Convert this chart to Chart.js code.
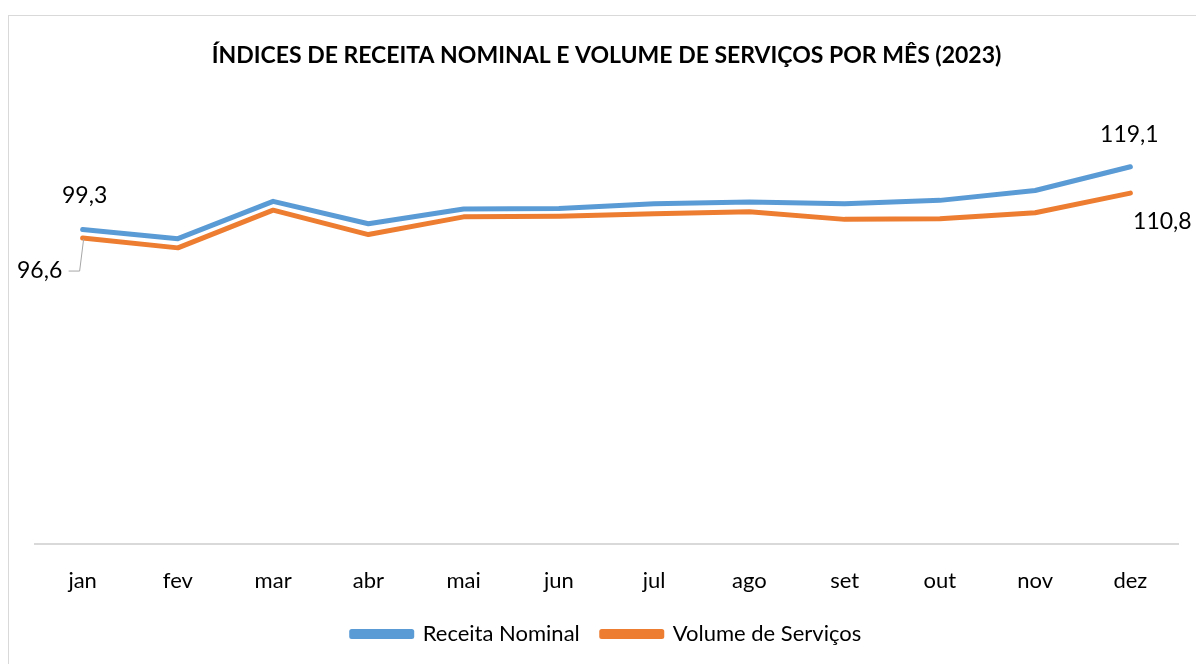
<!DOCTYPE html>
<html>
<head>
<meta charset="utf-8">
<script src="https://cdn.jsdelivr.net/npm/chart.js@4"></script>
<style>
  html, body { margin: 0; padding: 0; background: #fff; overflow: hidden; }
  #box {
    position: absolute; left: 8px; top: 15px;
    width: 1188px; height: 660px;
    border: 1px solid #d9d9d9; background: #fff;
  }
  #wrap { position: relative; width: 1186px; height: 648px; }
</style>
</head>
<body>
<div id="box"><div id="wrap"><canvas id="myChart"></canvas></div></div>
<script>
const months = ['jan', 'fev', 'mar', 'abr', 'mai', 'jun', 'jul', 'ago', 'set', 'out', 'nov', 'dez'];
const receitaNominal = [99.3, 96.4, 108.2, 101.1, 105.8, 105.9, 107.4, 108.0, 107.4, 108.5, 111.6, 119.1];
const volumeServicos = [96.6, 93.5, 105.4, 97.7, 103.3, 103.5, 104.3, 104.9, 102.5, 102.7, 104.6, 110.8];

const fontFamily = 'Lato, "Open Sans", sans-serif';

// labels for first and last points, drawn next to the lines
const pointLabels = {
  id: 'pointLabels',
  afterDatasetsDraw(chart) {
    const ctx = chart.ctx;
    const blue = chart.getDatasetMeta(0).data;
    const orange = chart.getDatasetMeta(1).data;
    const fmt = v => v.toFixed(1).replace('.', ',');
    ctx.save();
    ctx.font = '23px ' + fontFamily;
    ctx.fillStyle = '#000';
    ctx.textAlign = 'center';
    ctx.textBaseline = 'middle';
    const first = 0, last = months.length - 1;
    ctx.fillText(fmt(receitaNominal[first]), blue[first].x + 2, blue[first].y - 34);
    ctx.fillText(fmt(volumeServicos[first]), orange[first].x - 43, orange[first].y + 33);
    ctx.fillText(fmt(receitaNominal[last]), blue[last].x - 1, blue[last].y - 32);
    ctx.fillText(fmt(volumeServicos[last]), orange[last].x + 32, orange[last].y + 28);

    // leader line for 96,6
    ctx.strokeStyle = '#a6a6a6';
    ctx.lineWidth = 1;
    ctx.beginPath();
    ctx.moveTo(orange[first].x - 14, orange[first].y + 33);
    ctx.lineTo(orange[first].x - 3, orange[first].y + 33);
    ctx.lineTo(orange[first].x + 1, orange[first].y + 1);
    ctx.stroke();
    ctx.restore();
  }
};

const data = {
  labels: months,
  datasets: [
    {
      label: 'Receita Nominal',
      data: receitaNominal,
      borderColor: '#5b9bd5',
      backgroundColor: '#5b9bd5',
      borderWidth: 5,
      pointRadius: 0,
      tension: 0,
      borderCapStyle: 'round',
      borderJoinStyle: 'round'
    },
    {
      label: 'Volume de Serviços',
      data: volumeServicos,
      borderColor: '#ed7d31',
      backgroundColor: '#ed7d31',
      borderWidth: 5,
      pointRadius: 0,
      tension: 0,
      borderCapStyle: 'round',
      borderJoinStyle: 'round'
    }
  ]
};

const config = {
  type: 'line',
  data: data,
  options: {
    responsive: true,
    maintainAspectRatio: false,
    animation: false,
    layout: {
      padding: { left: 26, right: 17, top: 0, bottom: 9 }
    },
    plugins: {
      title: {
        display: true,
        text: 'ÍNDICES DE RECEITA NOMINAL E VOLUME DE SERVIÇOS POR MÊS (2023)',
        color: '#000',
        font: { family: fontFamily, size: 23, weight: 'bold' },
        padding: { top: 26, bottom: 31 }
      },
      legend: {
        position: 'bottom',
        labels: {
          color: '#000',
          font: { family: fontFamily, size: 22 },
          boxWidth: 60,
          boxHeight: 5,
          padding: 22
        }
      },
      tooltip: { enabled: false }
    },
    scales: {
      x: {
        offset: true,
        grid: { display: false, drawTicks: false },
        border: { display: true, color: '#d9d9d9', width: 2 },
        ticks: {
          color: '#000',
          font: { family: fontFamily, size: 22 },
          padding: 24,
          maxRotation: 0
        },
        afterFit(scale) { scale.height = 57; }
      },
      y: {
        display: false,
        min: 0,
        max: 140
      }
    }
  },
  plugins: [pointLabels]
};

const myChart = new Chart(document.getElementById('myChart'), config);
</script>
</body>
</html>
